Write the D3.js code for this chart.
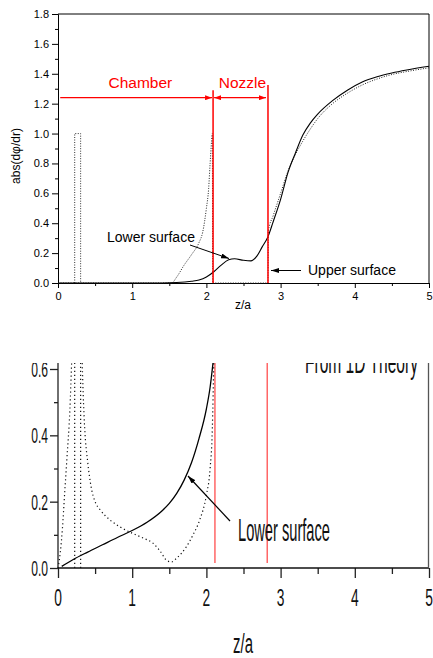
<!DOCTYPE html>
<html>
<head>
<meta charset="utf-8">
<script src="https://cdn.jsdelivr.net/npm/d3@7"></script>
<style>
  body { margin: 0; background: #fff; }
  text { font-family: "Liberation Sans", Arial, sans-serif; }
</style>
</head>
<body>
<div id="chart"></div>
<script>
// data, [z/a, value]
const topSolid = [[0,0],[1.4,0],[1.6,0.003],[1.8,0.012],[1.9,0.02],[2.0,0.04],[2.1,0.075],[2.2,0.12],[2.3,0.155],
  [2.38,0.162],[2.5,0.152],[2.6,0.148],[2.68,0.18],[2.75,0.24],[2.83,0.31],[2.9,0.41],[3.0,0.56],[3.1,0.74],
  [3.2,0.87],[3.3,0.99],[3.4,1.07],[3.5,1.13],[3.7,1.22],[3.9,1.29],[4.1,1.345],[4.3,1.38],[4.5,1.405],[4.7,1.425],[5.0,1.45]]
const topDotted = [[0,0],[1.53,0],[1.6,0.04],[1.7,0.12],[1.8,0.19],[1.9,0.27],[1.95,0.34],[2.0,0.5],[2.03,0.63],
  [2.05,0.8],[2.07,0.95],[2.08,1.0],[2.085,0],[2.83,0],[2.835,0.35],[2.9,0.45],[3.0,0.6],[3.1,0.75],[3.2,0.86],
  [3.3,0.95],[3.4,1.03],[3.5,1.1],[3.7,1.2],[3.9,1.27],[4.1,1.325],[4.3,1.365],[4.5,1.395],[4.7,1.415],[5.0,1.44]]
const pulse = [[0.225,0],[0.225,1],[0.305,1],[0.305,0]]

const lowSolid = [[0.05,0.005],[0.2,0.025],[0.4,0.048],[0.6,0.07],[0.8,0.092],[1.0,0.113],[1.2,0.138],[1.4,0.172],
  [1.5,0.195],[1.6,0.225],[1.7,0.265],[1.8,0.318],[1.9,0.39],[2.0,0.48],[2.05,0.545],[2.09,0.62]]
const lowDotLeft = [[0,0],[0.03,0.045],[0.06,0.12],[0.09,0.226],[0.12,0.33],[0.16,0.476],[0.185,0.63]]
const lowDotRight = [[0.325,0.63],[0.34,0.52],[0.36,0.42],[0.4,0.32],[0.45,0.24],[0.5,0.2],[0.57,0.175],[0.7,0.145],
  [0.85,0.122],[1.0,0.105],[1.15,0.09],[1.28,0.075],[1.38,0.05],[1.46,0.024],[1.53,0.018],[1.6,0.03],[1.73,0.064],
  [1.82,0.1],[1.91,0.145],[2.0,0.22],[2.05,0.3],[2.08,0.42],[2.1,0.63]]

const zones = [2.09, 2.83]          // chamber / nozzle boundaries
const xTicks = [0, 1, 2, 3, 4, 5]
const topYTicks = [0, 0.2, 0.4, 0.6, 0.8, 1.0, 1.2, 1.4, 1.6, 1.8]
const lowYTicks = [0, 0.2, 0.4, 0.6]

const W = 433, H = 658
const svg = d3.select("#chart").append("svg").attr("width", W).attr("height", H)

const defs = svg.append("defs")
function marker(id, color, len, wid) {
  defs.append("marker").attr("id", id).attr("viewBox", `0 0 ${len} ${wid}`)
    .attr("refX", len).attr("refY", wid / 2).attr("markerWidth", len).attr("markerHeight", wid)
    .attr("markerUnits", "userSpaceOnUse").attr("orient", "auto-start-reverse")
    .append("path").attr("d", `M0,0L${len},${wid / 2}L0,${wid}Z`).attr("fill", color)
}
marker("arR", "#f00", 7, 5)
marker("arK", "#000", 8, 5)
defs.append("clipPath").attr("id", "clipLow").append("rect")
  .attr("x", 0).attr("y", 363).attr("width", W).attr("height", H - 363)

const x = d3.scaleLinear().domain([0, 5]).range([58, 429])
const yTop = d3.scaleLinear().domain([0, 1.8]).range([283, 14])
const yLow = d3.scaleLinear().domain([0, 0.6]).range([568, 369])

// ---------- top panel ----------
const gTop = svg.append("g")
const lineTop = d3.line().x(d => x(d[0])).y(d => yTop(d[1]))

gTop.append("g").attr("transform", "translate(0,283)")
  .call(d3.axisBottom(x).tickValues(d3.range(0.5, 5, 1)).tickSize(3).tickFormat("").tickSizeOuter(0))
gTop.append("g").attr("transform", "translate(0,283)")
  .call(d3.axisBottom(x).tickValues(xTicks).tickSize(5).tickPadding(4).tickFormat(d3.format("d")).tickSizeOuter(0))
  .attr("font-size", 11)
gTop.append("g").attr("transform", "translate(58,0)")
  .call(d3.axisLeft(yTop).tickValues(d3.range(0.1, 1.8, 0.2)).tickSize(3).tickFormat("").tickSizeOuter(0))
gTop.append("g").attr("transform", "translate(58,0)")
  .call(d3.axisLeft(yTop).tickValues(topYTicks).tickSize(6).tickPadding(3).tickFormat(d3.format(".1f")).tickSizeOuter(0))
  .attr("font-size", 11)
gTop.selectAll(".domain, .tick line").attr("stroke", "#000")
gTop.selectAll(".tick text").attr("fill", "#000").attr("font-family", "Liberation Sans, Arial, sans-serif")
gTop.append("path").attr("d", `M58,14H429V283`).attr("fill", "none").attr("stroke", "#000")

gTop.append("path").datum(pulse).attr("d", lineTop).attr("fill", "none")
  .attr("stroke", "#333").attr("stroke-width", 1).attr("stroke-dasharray", "1,1.5")
gTop.append("path").datum(topDotted).attr("d", lineTop.curve(d3.curveMonotoneX)).attr("fill", "none")
  .attr("stroke", "#222").attr("stroke-width", 1).attr("stroke-dasharray", "1,1.5")
gTop.append("path").datum(topSolid).attr("d", lineTop.curve(d3.curveMonotoneX)).attr("fill", "none")
  .attr("stroke", "#000").attr("stroke-width", 1.1)

// red zone markers
gTop.append("line").attr("x1", x(zones[0])).attr("x2", x(zones[0])).attr("y1", yTop(1.29)).attr("y2", yTop(0))
  .attr("stroke", "#f00").attr("stroke-width", 1.5)
gTop.append("line").attr("x1", x(zones[1])).attr("x2", x(zones[1])).attr("y1", yTop(1.325)).attr("y2", yTop(0))
  .attr("stroke", "#f00").attr("stroke-width", 1.5)
gTop.append("line").attr("x1", x(0.03)).attr("x2", x(zones[0]) - 1).attr("y1", yTop(1.24)).attr("y2", yTop(1.24))
  .attr("stroke", "#f00").attr("stroke-width", 1.2).attr("marker-end", "url(#arR)")
gTop.append("line").attr("x1", x(zones[0]) + 1).attr("x2", x(zones[1]) - 2).attr("y1", yTop(1.24)).attr("y2", yTop(1.24))
  .attr("stroke", "#f00").attr("stroke-width", 1.2)
  .attr("marker-start", "url(#arR)").attr("marker-end", "url(#arR)")
gTop.append("text").attr("x", x(1.11)).attr("y", yTop(1.305)).attr("text-anchor", "middle")
  .attr("font-size", 15.5).attr("fill", "#f00").text("Chamber")
gTop.append("text").attr("x", x(2.485)).attr("y", yTop(1.305)).attr("text-anchor", "middle")
  .attr("font-size", 15.5).attr("fill", "#f00").text("Nozzle")

// annotations
gTop.append("text").attr("x", 107).attr("y", 242).attr("font-size", 14).text("Lower surface")
gTop.append("line").attr("x1", 190).attr("y1", 245).attr("x2", 229).attr("y2", 258.5)
  .attr("stroke", "#000").attr("stroke-width", 1).attr("marker-end", "url(#arK)")
gTop.append("text").attr("x", 308).attr("y", 275).attr("font-size", 14).text("Upper surface")
gTop.append("line").attr("x1", 301).attr("y1", 270.5).attr("x2", 271).attr("y2", 270.5)
  .attr("stroke", "#000").attr("stroke-width", 1).attr("marker-end", "url(#arK)")

gTop.append("text").attr("x", 243).attr("y", 309).attr("text-anchor", "middle").attr("font-size", 12).text("z/a")
gTop.append("text").attr("transform", "translate(20,156) rotate(-90)").attr("text-anchor", "middle")
  .attr("font-size", 12).text("abs(dφ/dr)")

// ---------- bottom panel ----------
const low = svg.append("g").attr("clip-path", "url(#clipLow)")
const lineLow = d3.line().x(d => x(d[0])).y(d => yLow(d[1]))

function narrow(g, txt, px, py, size, sx, anchor) {
  return g.append("g").attr("transform", `translate(${px},${py}) scale(${sx},1)`)
    .append("text").attr("text-anchor", anchor).attr("font-size", size).attr("fill", "#111").text(txt)
}
function fitWidth(g, txt, px, py, size, width) {
  const gg = g.append("g")
  const t = gg.append("text").attr("font-size", size).attr("fill", "#111").text(txt)
  const w = t.node().getComputedTextLength()
  gg.attr("transform", `translate(${px},${py}) scale(${width / w},1)`)
}

low.append("g").attr("transform", "translate(0,568)")
  .call(d3.axisBottom(x).tickValues(d3.range(0.5, 5, 1)).tickSize(6).tickFormat("").tickSizeOuter(0))
low.append("g").attr("transform", "translate(0,568)")
  .call(d3.axisBottom(x).tickValues(xTicks).tickSize(10).tickFormat("").tickSizeOuter(0))
low.append("g").attr("transform", "translate(58,0)")
  .call(d3.axisLeft(yLow).tickValues([0.1, 0.3, 0.5]).tickSize(4).tickFormat("").tickSizeOuter(0))
low.append("g").attr("transform", "translate(58,0)")
  .call(d3.axisLeft(yLow).tickValues(lowYTicks).tickSize(8).tickFormat("").tickSizeOuter(0))
low.selectAll(".domain").remove()
low.selectAll(".tick line").attr("stroke", "#222").attr("stroke-width", 1.3)
low.append("line").attr("x1", 58).attr("x2", 58).attr("y1", 363).attr("y2", 568).attr("stroke", "#222").attr("stroke-width", 1.3)
low.append("line").attr("x1", 58).attr("x2", 429).attr("y1", 568).attr("y2", 568).attr("stroke", "#111").attr("stroke-width", 1.5)
low.append("line").attr("x1", 428.5).attr("x2", 428.5).attr("y1", 363).attr("y2", 568).attr("stroke", "#555").attr("stroke-width", 1.3)

xTicks.forEach(v => narrow(low, String(v), x(v), 606, 23, 0.6, "middle"))
lowYTicks.forEach(v => narrow(low, d3.format(".1f")(v), 48, yLow(v) + 8, 22, 0.55, "end"))

zones.forEach((z, i) => {
  low.append("line").attr("x1", x(z + (i === 0 ? 0.025 : -0.01))).attr("x2", x(z + (i === 0 ? 0.025 : -0.01)))
    .attr("y1", yLow(0.015)).attr("y2", 360).attr("stroke", "#f66").attr("stroke-width", 1.5)
})

const dots = [pulse, lowDotLeft, lowDotRight]
low.selectAll(".dot").data(dots).join("path").attr("class", "dot")
  .attr("d", (d, i) => (i === 0 ? lineLow.curve(d3.curveLinear) : lineLow.curve(d3.curveMonotoneX))(d))
  .attr("fill", "none").attr("stroke", "#111").attr("stroke-width", 1.2).attr("stroke-dasharray", "1.2,2.8")
low.append("path").datum(lowSolid).attr("d", lineLow.curve(d3.curveMonotoneX)).attr("fill", "none")
  .attr("stroke", "#000").attr("stroke-width", 1.3)

fitWidth(low, "From 1D Theory", 305, 373, 31, 113)
fitWidth(low, "Lower surface", 238, 541, 31, 92)
low.append("line").attr("x1", 230).attr("y1", 521).attr("x2", 188).attr("y2", 476)
  .attr("stroke", "#000").attr("stroke-width", 1.2).attr("marker-end", "url(#arK)")

fitWidth(svg, "z/a", 233, 653, 28, 20)
</script>
</body>
</html>
